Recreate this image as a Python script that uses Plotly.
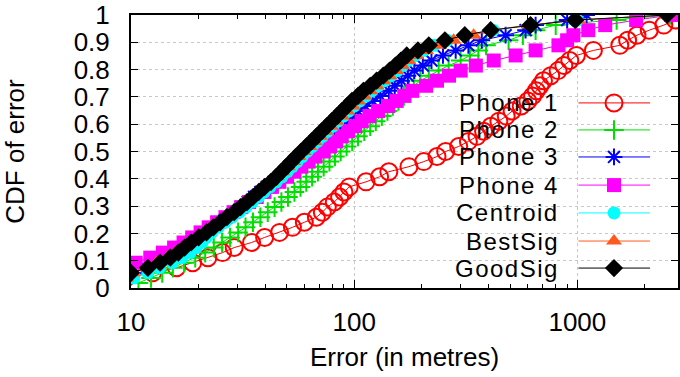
import plotly.graph_objects as go

# ---- data: sorted localisation errors (metres), 54 samples per method ----
series_names = ["Phone 1", "Phone 2", "Phone 3", "Phone 4", "Centroid", "BestSig", "GoodSig"]

phone1_err = [7, 9.5, 12.5, 16.0, 18.9, 22.1, 25.7, 29.0, 34.7, 39.7, 46.3, 52.9, 59.8, 67.7,
              72, 75.8, 81.4, 86, 90, 95, 113, 130, 143, 176, 205, 235, 257, 294, 325, 355,
              380, 410, 445, 480, 510, 560, 600, 630, 655, 680, 705, 760, 820, 870, 925, 990,
              1180, 1550, 1680, 1850, 2100, 2440, 2750, 3500]
phone2_err = [10.8, 12.3, 13.8, 15.4, 17.3, 19.4, 21.5, 23.5, 25.6, 27.8, 30.2, 32.6, 35.2, 38.0,
              41.0, 44.0, 47.2, 50.5, 54.0, 57.5, 61.0, 64.8, 68.8, 73.0, 77.5, 82.0, 87.0, 92.5,
              98.0, 104, 111, 118, 125, 133, 141, 149, 158, 167, 176, 185, 198, 216, 239, 265,
              300, 330, 360, 390, 492, 570, 650, 800, 1500, 2600]
phone3_err = [7.8, 9.3, 10.0, 11.7, 13.2, 14.7, 16.0, 17.2, 18.4, 19.8, 21.4, 23.1, 24.9, 26.8,
              28.9, 31.0, 33.3, 35.6, 38.0, 40.6, 43.5, 46.5, 49.8, 53.0, 56.5, 60.5, 64.5, 68.5,
              72.5, 77, 82, 87, 92.5, 98, 104, 112, 121, 131, 143, 152, 163, 174, 186, 203, 222,
              250, 285, 325, 373, 477, 586, 650, 900, 1100]
phone4_err = [7.5, 8.8, 9.6, 9.9, 10.5, 12.2, 13.9, 15.6, 17.2, 18.8, 20.5, 22.3, 24.3, 26.5,
              28.8, 31.2, 33.8, 36.6, 39.6, 42.8, 46.2, 50, 54, 58, 62.5, 67, 73, 78, 83, 88, 94,
              101, 108, 117, 128, 142, 155, 168, 182, 210, 235, 266, 300, 351, 422, 529, 650,
              823, 900, 960, 1119, 1333, 1834, 2630]
centroid_err = [8.5, 10.3, 11.9, 13.4, 15.3, 16.9, 18.4, 19.6, 20.8, 21.8, 23.0, 24.6, 26.4, 28.4,
                30.6, 32.8, 35.0, 37.3, 39.6, 42.0, 44.8, 47.5, 50.2, 52.8, 55.6, 58.5, 61.6,
                65.0, 68.5, 72.2, 76.0, 80.2, 84.5, 89.5, 94.5, 100, 106, 113, 120, 128, 137, 146,
                156, 165, 175, 188, 205, 228, 262, 313, 420, 617, 1000, 2523]
bestsig_err = [8, 9.5, 10.2, 11.6, 13.0, 14.5, 15.8, 17.0, 18.2, 19.6, 21.2, 22.8, 24.5, 26.4,
               28.4, 30.4, 32.6, 34.8, 37.0, 39.5, 42.3, 45.0, 47.6, 50.4, 53.3, 56.3, 59.5,
               63.0, 66.5, 70.3, 74.3, 78.5, 83.0, 88.0, 93.0, 98.5, 104, 111, 118, 126, 135,
               144, 154, 164, 175, 190, 210, 240, 279, 343, 409, 604, 1009, 2523]
goodsig_err = [7.5, 9.0, 10.0, 11.9, 13.5, 15.0, 16.3, 17.4, 18.6, 20.1, 21.8, 23.4, 25.1, 26.9,
               29.0, 31.0, 33.1, 35.2, 37.4, 39.7, 42.4, 44.8, 47.2, 49.7, 52.3, 55.0, 57.9,
               61.1, 64.4, 67.9, 71.5, 75.4, 79.4, 83.8, 88.1, 92.9, 97.7, 104, 110, 118, 126,
               135, 144, 153, 162, 172, 193, 216, 255, 313, 409, 617, 979, 2523]

x_tick_vals = [10, 100, 1000]
x_tick_text = ["10", "100", "1000"]
x_minor_vals = [20, 30, 40, 50, 60, 70, 80, 90, 200, 300, 400, 500, 600, 700, 800, 900, 2000]

all_errs = [phone1_err, phone2_err, phone3_err, phone4_err, centroid_err, bestsig_err, goodsig_err]

# ---- styles ----
colors = ["#ff0000", "#00e000", "#0000ff", "#ff00ff", "#00ffff", "#ff5a1e", "#000000"]
symbols = ["circle-open", "cross-thin-open", "asterisk-open", "square", "circle", "triangle-up", "diamond"]
sizes = [17, 14, 14, 14, 13, 14, 14]

FONT = "Liberation Sans, Arial, sans-serif"
FS = 26
KEY_FS = 24
fig = go.Figure()

for name, errs, c, s, sz in zip(series_names, all_errs, colors, symbols, sizes):
    n = len(errs)
    cdf = [(i + 1) / n for i in range(n)]
    open_sym = s.endswith("open")
    fig.add_trace(go.Scatter(
        x=errs, y=cdf, mode="lines+markers", name=name,
        line=dict(color=c, width=1),
        marker=dict(symbol=s, size=sz, color=c,
                    line=dict(color=c, width=2 if open_sym else 0)),
        showlegend=False, cliponaxis=True,
    ))

# ---- gnuplot-style key (text left, sample right) on an overlay axis ----
key_x0, key_x1, key_xm, key_text_x = 0.818, 0.949, 0.883, 0.787
key_rows = [0.678, 0.579, 0.480, 0.377, 0.275, 0.172, 0.073]
for name, c, s, sz, ky in zip(series_names, colors, symbols, sizes, key_rows):
    open_sym = s.endswith("open")
    fig.add_trace(go.Scatter(
        x=[key_x0, key_x1], y=[ky, ky], mode="lines", line=dict(color=c, width=1),
        xaxis="x2", yaxis="y2", showlegend=False, hoverinfo="skip"))
    fig.add_trace(go.Scatter(
        x=[key_xm], y=[ky], mode="markers",
        marker=dict(symbol=s, size=sz, color=c, line=dict(color=c, width=2 if open_sym else 0)),
        xaxis="x2", yaxis="y2", showlegend=False, hoverinfo="skip"))
    fig.add_annotation(x=key_text_x, y=ky, xref="paper", yref="paper",
                       text='<span style="letter-spacing:1.5px">' + name + "</span>",
                       showarrow=False, xanchor="right", yanchor="middle",
                       font=dict(family=FONT, size=KEY_FS, color="black"))

fig.update_layout(
    width=680, height=377,
    margin=dict(l=131, r=0, t=15, b=89),
    paper_bgcolor="white", plot_bgcolor="white",
    font=dict(family=FONT, size=FS, color="black"),
    showlegend=False,
    xaxis=dict(
        type="log", range=[1, 3.451],
        tickmode="array", tickvals=x_tick_vals, ticktext=x_tick_text,
        ticks="inside", ticklen=8, tickwidth=1, tickcolor="black",
        minor=dict(tickmode="array", tickvals=x_minor_vals, ticks="inside",
                   ticklen=4, tickwidth=1, tickcolor="black", showgrid=False),
        showline=True, linecolor="black", linewidth=2, mirror="ticks",
        showgrid=True, gridcolor="#c8c8c8", griddash="dot", gridwidth=1,
        zeroline=False, ticklabelstandoff=10,
        title=dict(text="Error (in metres)", font=dict(family=FONT, size=FS), standoff=12),
    ),
    yaxis=dict(
        range=[0, 1], tick0=0, dtick=0.1,
        ticks="inside", ticklen=7, tickwidth=1, tickcolor="black",
        showline=True, linecolor="black", linewidth=2, mirror="ticks",
        showgrid=True, gridcolor="#c8c8c8", griddash="dot", gridwidth=1,
        zeroline=False, ticklabelstandoff=14,
        title=dict(text="CDF of error", font=dict(family=FONT, size=FS), standoff=43),
    ),
    xaxis2=dict(overlaying="x", range=[0, 1], visible=False, anchor="y2"),
    yaxis2=dict(overlaying="y", range=[0, 1], visible=False, anchor="x2"),
)

fig.write_html("out.html", config={"displayModeBar": False},
               post_script="document.body.style.margin='0';")
